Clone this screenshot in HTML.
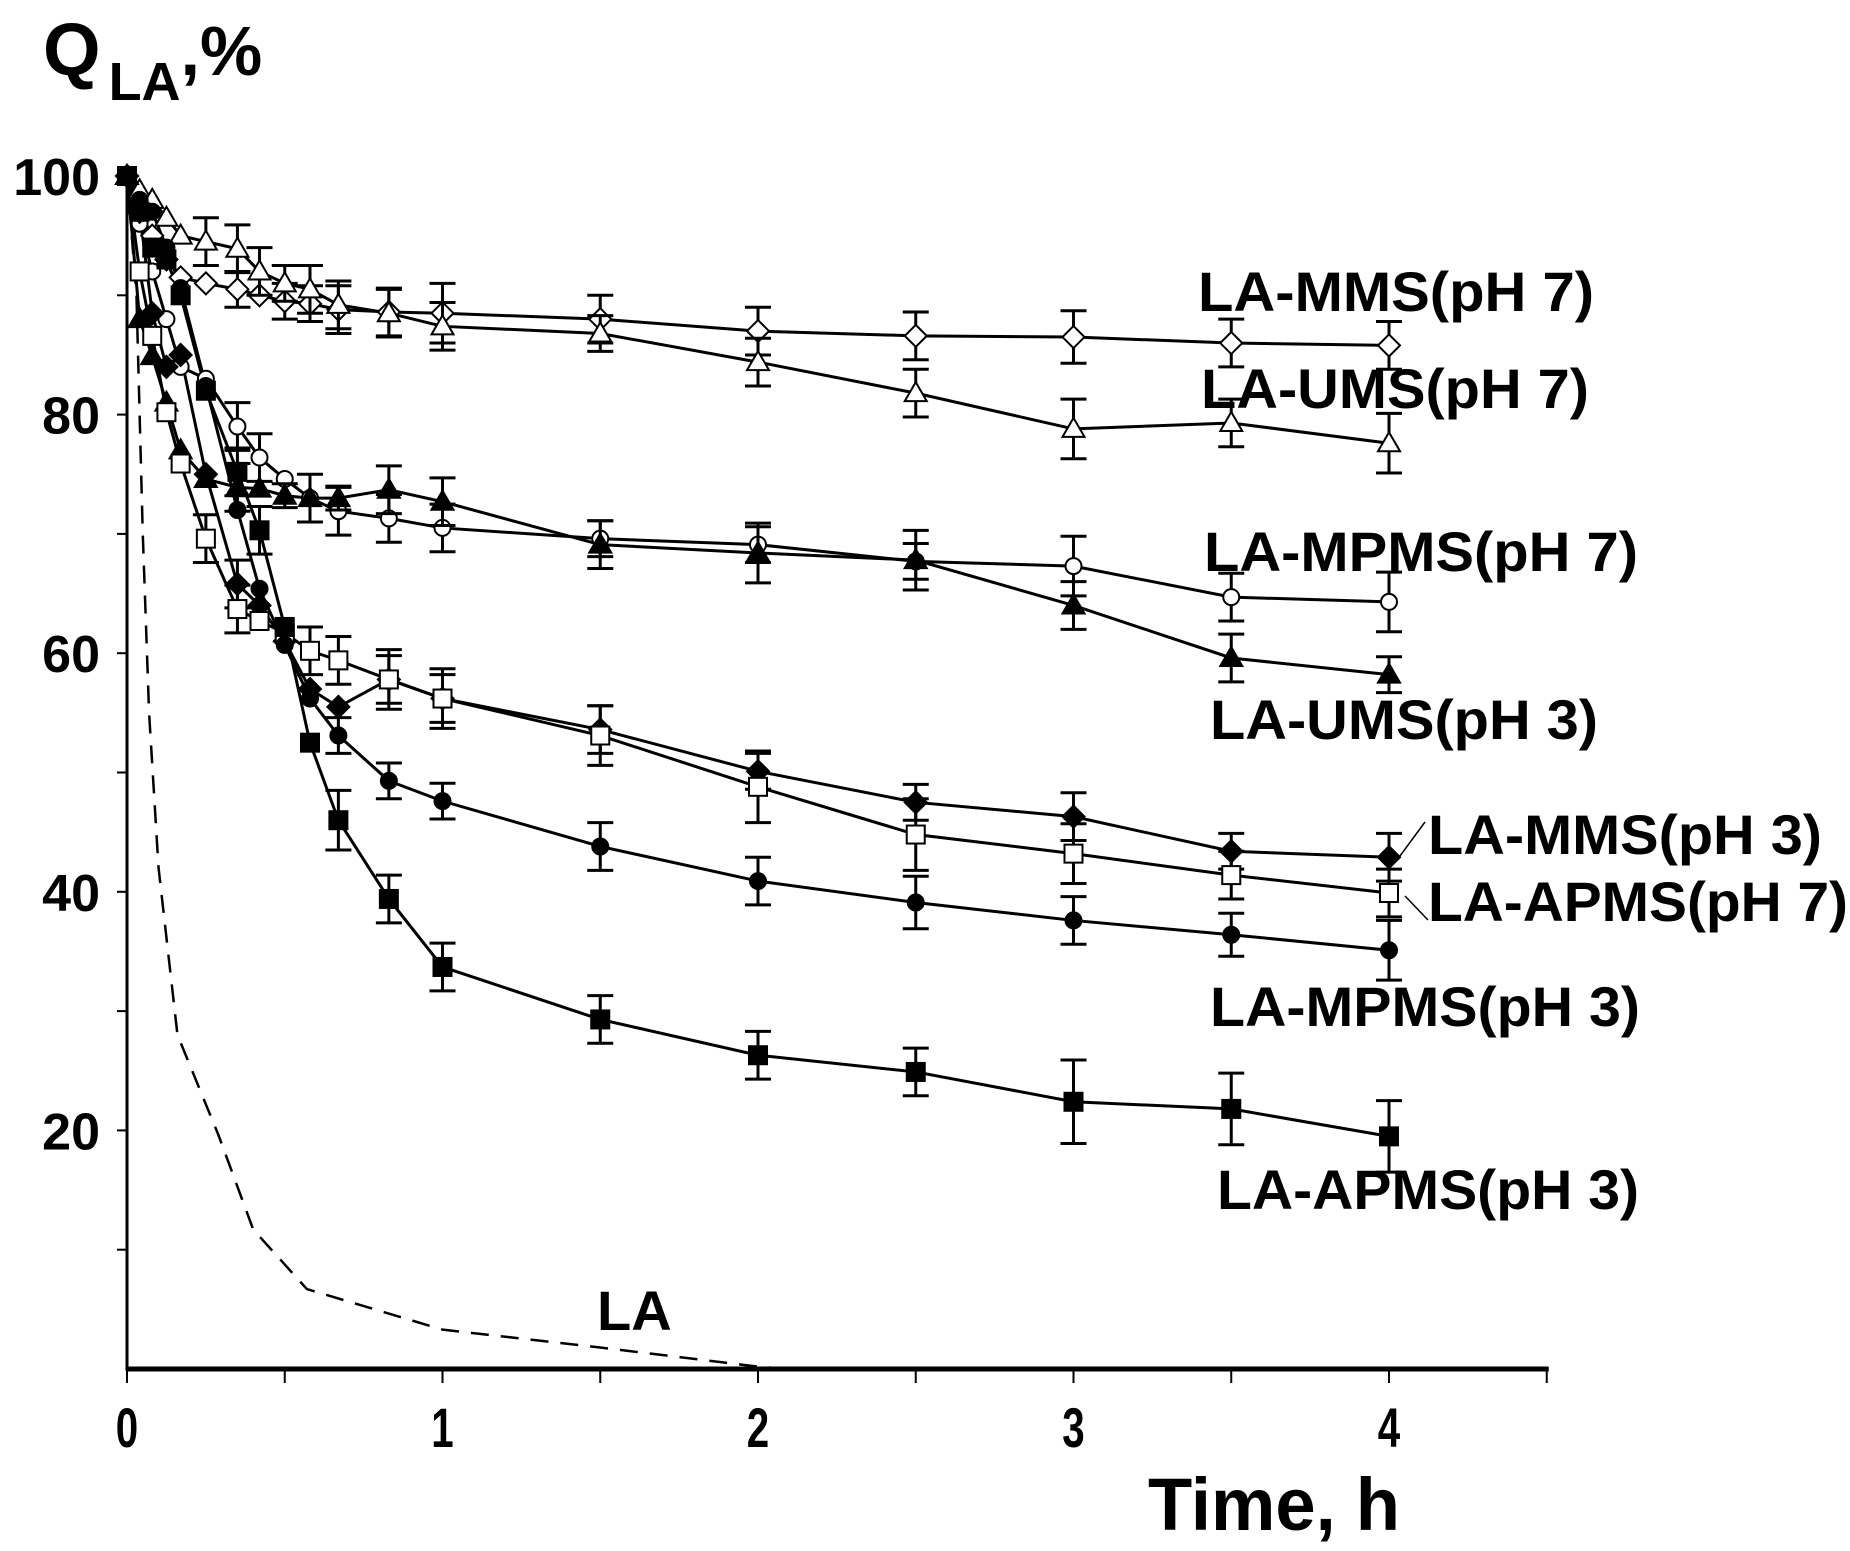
<!DOCTYPE html>
<html><head><meta charset="utf-8"><style>
html,body{margin:0;padding:0;background:#fff;}
svg{display:block;font-family:"Liberation Sans",Arial,sans-serif;font-weight:bold;}
</style></head><body>
<svg id="chart" width="1850" height="1551" viewBox="0 0 1850 1551">
<g id="axes"></g>
<g id="lines"></g>
<g id="marks"></g>
<g id="labels">
<text x="43" y="75" font-size="74">Q<tspan font-size="54" dy="25" dx="8">LA</tspan><tspan dy="-25" font-size="70">,%</tspan></text>
<text x="1148" y="1530" font-size="74" textLength="252" lengthAdjust="spacingAndGlyphs">Time, h</text>
<text x="1198" y="311" font-size="56" textLength="396" lengthAdjust="spacingAndGlyphs">LA-MMS(pH 7)</text>
<text x="1201" y="408" font-size="56" textLength="388" lengthAdjust="spacingAndGlyphs">LA-UMS(pH 7)</text>
<text x="1204" y="571" font-size="56" textLength="434" lengthAdjust="spacingAndGlyphs">LA-MPMS(pH 7)</text>
<text x="1210" y="739" font-size="56" textLength="388" lengthAdjust="spacingAndGlyphs">LA-UMS(pH 3)</text>
<text x="1428" y="854" font-size="56" textLength="394" lengthAdjust="spacingAndGlyphs">LA-MMS(pH 3)</text>
<text x="1428" y="921" font-size="56" textLength="420" lengthAdjust="spacingAndGlyphs">LA-APMS(pH 7)</text>
<text x="1210" y="1026" font-size="56" textLength="430" lengthAdjust="spacingAndGlyphs">LA-MPMS(pH 3)</text>
<text x="1217" y="1209" font-size="56" textLength="422" lengthAdjust="spacingAndGlyphs">LA-APMS(pH 3)</text>
<text x="597" y="1330" font-size="56">LA</text>
<line x1="1397" y1="860" x2="1425" y2="822" stroke="#000" stroke-width="1.5"/>
<line x1="1405" y1="896" x2="1428" y2="920" stroke="#000" stroke-width="1.5"/>
</g>
</svg>
<script>
const xTicks = [0, 1, 2, 3, 4];
const yTicks = [20, 40, 60, 80, 100];
const tFull = [0, 0.04, 0.08, 0.125, 0.17, 0.25, 0.35, 0.42, 0.5, 0.58, 0.67, 0.83, 1, 1.5, 2, 2.5, 3, 3.5, 4];
const mmsPH7 = [100, 97, 95, 93, 91.5, 91, 90.5, 90, 89.5, 89.3, 88.8, 88.6, 88.5, 88, 87, 86.6, 86.5, 86, 85.8];
const mmsPH7Err = [0,0,0,0,0,0,1.5,0,1.5,1.5,2,2,2.5,2,2,2,2.2,2,2];
const umsPH7 = [100, 98.8, 98, 96.5, 95, 94.5, 93.9, 92, 91, 90.5, 89.2, 88.5, 87.4, 86.8, 84.4, 81.8, 78.8, 79.3, 77.6];
const umsPH7Err = [0,0,0,0,0,2,2,2,1.5,2,2,2,2,1.5,2,2,2.5,2,2.5];
const mpmsPH7 = [100, 96, 92, 88, 84, 83, 79, 76.4, 74.6, 73, 71.9, 71.3, 70.5, 69.6, 69.1, 67.7, 67.3, 64.7, 64.3];
const mpmsPH7Err = [0,0,0,0,0,0,2,2,0,2,2,2,2,1.5,1.5,1.5,2.5,2,2.5];
const umsPH3 = [100, 88, 84.9, 81, 77, 74.6, 73.9, 73.8, 73.2, 73, 73, 73.7, 72.7, 69.1, 68.4, 67.8, 64, 59.6, 58.2];
const umsPH3Err = [0,0,0,0,0,0,2,0,1,0,1,2,2,2,2.5,2.5,2,2,1.5];
const mmsPH3 = [100, 97, 88.5, 84, 85, 75, 65.8, 64, 61, 57, 55.5, 57.8, 56.2, 53.6, 50.1, 47.5, 46.3, 43.4, 42.9];
const mmsPH3Err = [0,0,0,0,0,0,2,0,0,0,0,2,2,2,1.5,1.5,2,1.5,2];
const apmsPH7 = [100, 92, 86.6, 80.2, 75.9, 69.6, 63.7, 62.7, 61.7, 60.2, 59.4, 57.8, 56.2, 53.1, 48.8, 44.8, 43.2, 41.4, 39.9];
const apmsPH7Err = [0,0,0,0,0,2,2,0,0,2,2,2.5,2.5,2.5,3,3,2.5,2,2];
const mpmsPH3 = [100, 98, 97, 94, 90.6, 82.4, 72, 65.4, 60.7, 56.2, 53.1, 49.3, 47.6, 43.8, 40.9, 39.1, 37.6, 36.4, 35.1];
const mpmsPH3Err = [0,0,0,0,0,0,0,0,0,0,1.5,1.5,1.5,2,2,2.2,2,1.8,2.5];
const apmsPH3 = [100, 97, 94, 93, 90, 82, 75.2, 70.3, 62.2, 52.5, 46, 39.4, 33.7, 29.3, 26.3, 24.9, 22.4, 21.8, 19.5];
const apmsPH3Err = [0,0,0,0,0,0,2,2,0,0,2.5,2,2,2,2,2,3.5,3,3];
const laTime = [0, 0.03, 0.05, 0.07, 0.1, 0.16, 0.29, 0.4, 0.57, 1, 1.5, 2, 2.1];
const laValues = [100, 90, 70, 55, 42, 28, 19.6, 11.7, 6.7, 3.3, 1.8, 0.2, 0];

const X0 = 127, PX_PER_H = 315.5, Y0 = 1369, PX_PER_PCT = 11.93;
const sx = t => X0 + t * PX_PER_H;
const sy = v => Y0 - v * PX_PER_PCT;
const NS = "http://www.w3.org/2000/svg";
function mk(tag, attrs, parent) {
  const el = document.createElementNS(NS, tag);
  for (const k in attrs) el.setAttribute(k, attrs[k]);
  parent.appendChild(el);
  return el;
}
const axes = document.getElementById('axes');
const lines = document.getElementById('lines');
const marks = document.getElementById('marks');

let a = mk('line', {x1: X0, y1: sy(0), x2: sx(4.5) + 2, y2: sy(0), stroke: '#000', 'stroke-width': 5}, axes);


a = mk('line', {x1: X0, y1: sy(0) + 2, x2: X0, y2: sy(100) - 2, stroke: '#000', 'stroke-width': 3}, axes);


for (let t = 0; t <= 4.5001; t += 0.5) {
  const tk = mk('line', {x1: sx(t), y1: sy(0), x2: sx(t), y2: sy(0) + 14, stroke: '#000', 'stroke-width': 2}, axes);
  
  
}
for (let v = 10; v <= 100; v += 10) {
  const tk = mk('line', {x1: X0 - 10, y1: sy(v), x2: X0, y2: sy(v), stroke: '#000', 'stroke-width': 2}, axes);
  
  
}
xTicks.forEach(t => {
  const tx = mk('text', {x: sx(t), y: sy(0) + 78, 'font-size': 56, 'text-anchor': 'middle', transform: `translate(${sx(t)},0) scale(0.72,1) translate(${-sx(t)},0)`}, axes);
  tx.textContent = String(t);
  
  
});
yTicks.forEach(v => {
  const tx = mk('text', {x: 100, y: sy(v) + 19, 'font-size': 52, 'text-anchor': 'end'}, axes);
  tx.textContent = String(v);
  
  
});

const laPath = mk('path', {d: laTime.map((t, i) => (i ? 'L' : 'M') + sx(t) + ',' + sy(laValues[i])).join(' '), fill: 'none', stroke: '#000', 'stroke-width': 2.5, 'stroke-dasharray': '18,12'}, lines);



const series = [
  {name: 'la-mms-ph7', vals: mmsPH7, err: mmsPH7Err, m: 'diamond', fill: '#fff'},
  {name: 'la-ums-ph7', vals: umsPH7, err: umsPH7Err, m: 'triangle', fill: '#fff'},
  {name: 'la-mpms-ph7', vals: mpmsPH7, err: mpmsPH7Err, m: 'circle', fill: '#fff'},
  {name: 'la-ums-ph3', vals: umsPH3, err: umsPH3Err, m: 'triangle', fill: '#000'},
  {name: 'la-mms-ph3', vals: mmsPH3, err: mmsPH3Err, m: 'diamond', fill: '#000'},
  {name: 'la-apms-ph7', vals: apmsPH7, err: apmsPH7Err, m: 'square', fill: '#fff'},
  {name: 'la-mpms-ph3', vals: mpmsPH3, err: mpmsPH3Err, m: 'circle', fill: '#000'},
  {name: 'la-apms-ph3', vals: apmsPH3, err: apmsPH3Err, m: 'square', fill: '#000'}
];
series.forEach(s => {
  const p = mk('path', {d: tFull.map((t, i) => (i ? 'L' : 'M') + sx(t) + ',' + sy(s.vals[i])).join(' '), fill: 'none', stroke: '#000', 'stroke-width': 3}, lines);
  
  
  tFull.forEach((t, i) => {
    const x = sx(t), y = sy(s.vals[i]), e = s.err[i];
    if (e > 0) {
      const eb = mk('path', {d: `M${x},${sy(s.vals[i] + e)} L${x},${sy(s.vals[i] - e)} M${x - 13},${sy(s.vals[i] + e)} L${x + 13},${sy(s.vals[i] + e)} M${x - 13},${sy(s.vals[i] - e)} L${x + 13},${sy(s.vals[i] - e)}`, stroke: '#000', 'stroke-width': 3, fill: 'none'}, marks);
      
      
    }
    let mkr;
    const st = {fill: s.fill, stroke: '#000', 'stroke-width': 2};
    if (s.m === 'diamond') mkr = mk('polygon', Object.assign({points: `${x},${y - 11} ${x + 11},${y} ${x},${y + 11} ${x - 11},${y}`}, st), marks);
    else if (s.m === 'triangle') mkr = mk('polygon', Object.assign({points: `${x},${y - 11} ${x + 11},${y + 8} ${x - 11},${y + 8}`}, st), marks);
    else if (s.m === 'circle') mkr = mk('circle', Object.assign({cx: x, cy: y, r: 8}, st), marks);
    else mkr = mk('rect', Object.assign({x: x - 9, y: y - 9, width: 18, height: 18}, st), marks);
    
    
  });
});
</script>
</body></html>
